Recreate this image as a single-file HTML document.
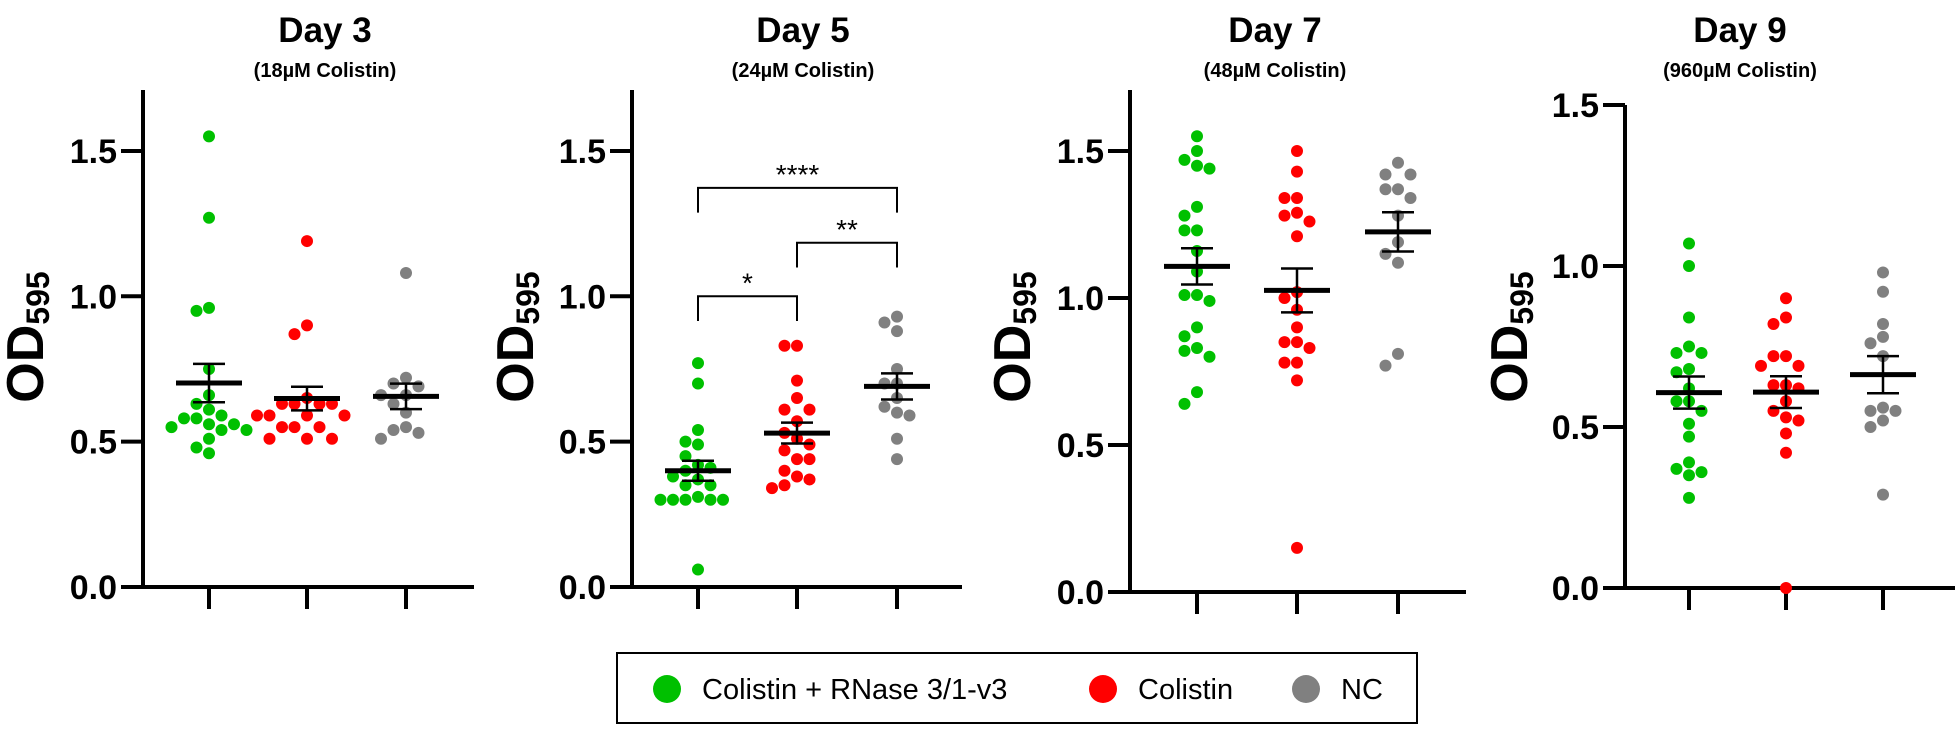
<!DOCTYPE html>
<html><head><meta charset="utf-8"><style>
html,body{margin:0;padding:0;background:#fff;}
svg{display:block;font-family:"Liberation Sans",Arial,sans-serif;}
</style></head><body>
<svg id="chart" width="1955" height="731" viewBox="0 0 1955 731"></svg>
<script>
const seriesNames = ['Colistin + RNase 3/1-v3', 'Colistin', 'NC'];
const seriesColors = ['#00c000', '#ff0000', '#808080'];
const panelTitles = ['Day 3', 'Day 5', 'Day 7', 'Day 9'];
const panelSubtitles = ['(18\u00b5M Colistin)', '(24\u00b5M Colistin)', '(48\u00b5M Colistin)', '(960\u00b5M Colistin)'];
const yTicks = [0, 0.5, 1.0, 1.5];
const yTickLabels = ['0.0', '0.5', '1.0', '1.5'];

const day3Green = [1.55,1.27,0.96,0.95,0.75,0.66,0.63,0.61,0.59,0.58,0.58,0.56,0.56,0.55,0.54,0.54,0.51,0.48,0.46];
const day3Red = [1.19,0.90,0.87,0.65,0.63,0.63,0.63,0.63,0.59,0.59,0.59,0.59,0.55,0.55,0.55,0.51,0.51,0.51];
const day3Gray = [1.08,0.72,0.70,0.69,0.66,0.66,0.63,0.60,0.55,0.54,0.53,0.51];
const day5Green = [0.77,0.70,0.54,0.50,0.49,0.45,0.42,0.41,0.40,0.38,0.37,0.35,0.35,0.31,0.30,0.30,0.30,0.30,0.30,0.06];
const day5Red = [0.83,0.83,0.71,0.65,0.61,0.61,0.57,0.53,0.51,0.49,0.47,0.44,0.44,0.40,0.38,0.37,0.35,0.34];
const day5Gray = [0.93,0.91,0.88,0.75,0.70,0.70,0.65,0.62,0.60,0.59,0.51,0.44];
const day7Green = [1.55,1.50,1.47,1.45,1.44,1.31,1.28,1.23,1.23,1.16,1.09,1.01,1.01,0.99,0.90,0.87,0.83,0.82,0.80,0.68,0.64];
const day7Red = [1.50,1.43,1.34,1.34,1.29,1.28,1.26,1.21,1.02,1.00,0.96,0.90,0.85,0.85,0.83,0.78,0.78,0.72,0.15];
const day7Gray = [1.46,1.42,1.42,1.37,1.37,1.34,1.28,1.19,1.15,1.12,0.81,0.77];
const day9Green = [1.07,1.00,0.84,0.75,0.73,0.73,0.68,0.67,0.62,0.58,0.58,0.55,0.51,0.47,0.39,0.37,0.36,0.35,0.28];
const day9Red = [0.90,0.84,0.82,0.72,0.72,0.69,0.69,0.63,0.63,0.62,0.58,0.55,0.53,0.52,0.48,0.42,0.00];
const day9Gray = [0.98,0.92,0.82,0.78,0.76,0.72,0.56,0.55,0.55,0.52,0.50,0.29];

// significance brackets for Day 5 (category indices, bracket height in OD units)
const bracketFrom = [0, 0, 1];
const bracketTo = [1, 2, 2];
const bracketLevel = [1.0, 1.373, 1.184];
const bracketLabels = ['*', '****', '**'];

const panelData = [
  [day3Green, day3Red, day3Gray],
  [day5Green, day5Red, day5Gray],
  [day7Green, day7Red, day7Gray],
  [day9Green, day9Red, day9Gray]
];

// layout (style, not data)
const layout = [
  {ax:143, y0:587, ppu:290.7, top:90, cats:[209,307,406], xEnd:474, tx:325, odx:43},
  {ax:632, y0:587, ppu:290.7, top:90, cats:[698,797,897], xEnd:962, tx:803, odx:533},
  {ax:1130, y0:592, ppu:294, top:90, cats:[1197,1297,1398], xEnd:1466, tx:1275, odx:1030},
  {ax:1625, y0:588, ppu:322, top:105, cats:[1689,1786,1883], xEnd:1955, tx:1740, odx:1527}
];

const NS = 'http://www.w3.org/2000/svg';
const svg = document.getElementById('chart');
function mk(tag, attrs, parent) {
  const e = document.createElementNS(NS, tag);
  for (const k in attrs) e.setAttribute(k, attrs[k]);
  (parent || svg).appendChild(e);
  return e;
}

function swarm(values, cx, yScale) {
  const placed = [];
  const order = values.map((v, i) => i).sort((a, b) => values[b] - values[a]);
  const out = new Array(values.length);
  const minD = 12, step = 12.5;
  order.forEach(i => {
    const y = yScale(values[i]);
    const offs = [0];
    for (let k = 1; k < 8; k++) { offs.push(-k * step); offs.push(k * step); }
    for (const o of offs) {
      const x = cx + o;
      if (placed.every(p => Math.hypot(p[0] - x, p[1] - y) >= minD)) {
        placed.push([x, y]); out[i] = [x, y]; break;
      }
    }
    if (!out[i]) { out[i] = [cx, y]; placed.push([cx, y]); }
  });
  return out;
}

layout.forEach((L, p) => {
  const g = mk('g', {});
  
  
  const yS = v => L.y0 - v * L.ppu;

  const t = mk('text', {x:L.tx, y:42, 'text-anchor':'middle', 'font-size':35, 'font-weight':'bold'}, g);
  t.textContent = panelTitles[p];
  
  
  const st = mk('text', {x:L.tx, y:77, 'text-anchor':'middle', 'font-size':20, 'font-weight':'bold'}, g);
  st.textContent = panelSubtitles[p];
  
  

  const ya = mk('line', {x1:L.ax, y1:L.top, x2:L.ax, y2:L.y0 + 2, stroke:'#000', 'stroke-width':4}, g);
  
  
  const xa = mk('line', {x1:L.ax - 22, y1:L.y0, x2:L.xEnd, y2:L.y0, stroke:'#000', 'stroke-width':4}, g);
  
  
  yTicks.forEach((v, i) => {
    const y = yS(v);
    const tk = mk('line', {x1:L.ax - 22, y1:y, x2:L.ax, y2:y, stroke:'#000', 'stroke-width':4}, g);
    
    
    const tl = mk('text', {x:L.ax - 26, y:y + 12, 'text-anchor':'end', 'font-size':34, 'font-weight':'bold'}, g);
    tl.textContent = yTickLabels[i];
    
    
  });
  L.cats.forEach(cx => {
    const tk = mk('line', {x1:cx, y1:L.y0, x2:cx, y2:L.y0 + 22, stroke:'#000', 'stroke-width':4}, g);
    
    
  });

  const od = mk('text', {x:0, y:0, transform:'translate(' + L.odx + ',337) rotate(-90)', 'text-anchor':'middle', 'font-size':52, 'font-weight':'bold'}, g);
  
  
  const t1 = mk('tspan', {}, od); t1.textContent = 'OD';
  const t2 = mk('tspan', {'font-size':32, dy:6}, od); t2.textContent = '595';

  panelData[p].forEach((vals, s) => {
    const cx = L.cats[s];
    const pts = swarm(vals, cx, yS);
    pts.forEach(pt => {
      const c = mk('circle', {cx:pt[0], cy:pt[1], r:6, fill:seriesColors[s]}, g);
      
      
    });
    const n = vals.length;
    const mean = vals.reduce((a, b) => a + b, 0) / n;
    const sd = Math.sqrt(vals.reduce((a, b) => a + (b - mean) * (b - mean), 0) / (n - 1));
    const sem = sd / Math.sqrt(n);
    const ml = mk('line', {x1:cx - 33, y1:yS(mean), x2:cx + 33, y2:yS(mean), stroke:'#000', 'stroke-width':5}, g);
    
    
    const el = mk('path', {d:'M' + cx + ' ' + yS(mean + sem) + 'V' + yS(mean - sem) +
      'M' + (cx - 16) + ' ' + yS(mean + sem) + 'H' + (cx + 16) +
      'M' + (cx - 16) + ' ' + yS(mean - sem) + 'H' + (cx + 16),
      stroke:'#000', 'stroke-width':2.5, fill:'none'}, g);
    
    
  });

  if (p === 1) {
    bracketFrom.forEach((f, i) => {
      const x1 = L.cats[f], x2 = L.cats[bracketTo[i]];
      const y = yS(bracketLevel[i]), yl = yS(bracketLevel[i] - 0.085);
      const b = mk('path', {d:'M' + x1 + ' ' + yl + 'V' + y + 'H' + x2 + 'V' + yl, stroke:'#000', 'stroke-width':2, fill:'none'}, g);
      
      
      const bt = mk('text', {x:(x1 + x2) / 2, y:y - 4, 'text-anchor':'middle', 'font-size':28}, g);
      bt.textContent = bracketLabels[i];
      
      
    });
  }
});

const lg = mk('g', {});


const box = mk('rect', {x:617, y:653, width:800, height:70, fill:'#fff', stroke:'#000', 'stroke-width':2}, lg);


const legDotX = [667, 1103, 1306];
seriesNames.forEach((nm, i) => {
  const c = mk('circle', {cx:legDotX[i], cy:689, r:14, fill:seriesColors[i]}, lg);
  
  
  const t = mk('text', {x:legDotX[i] + 35, y:699, 'font-size':29}, lg);
  t.textContent = nm;
  
  
});
</script>
</body></html>
